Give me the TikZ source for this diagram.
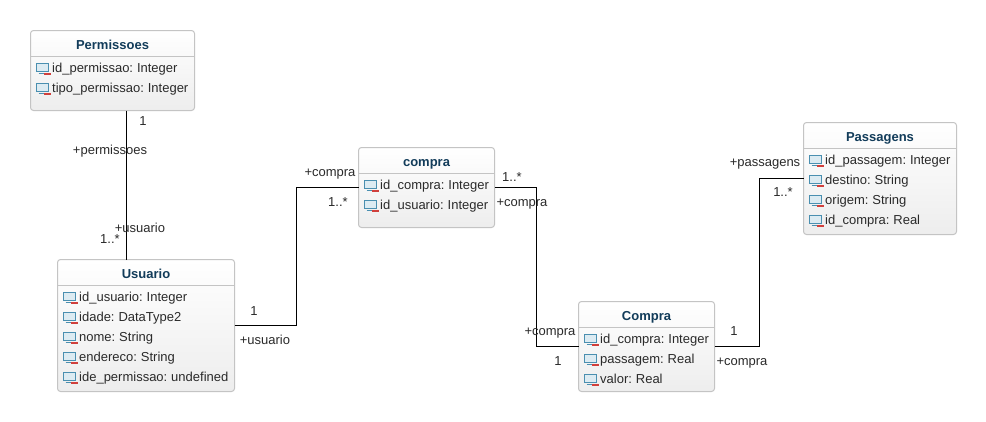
\documentclass[tikz,border=0pt]{standalone}
\usepackage{fontspec}
\setmainfont[WordSpace=0.75]{Liberation Sans}
\usetikzlibrary{calc}
\definecolor{titlec}{HTML}{123C5A}
\definecolor{edgec}{HTML}{C4C4C4}
\definecolor{txtc}{HTML}{2A2A2A}
\definecolor{iconb}{HTML}{4A8FB0}
\definecolor{iconf}{HTML}{DCEBF2}
\definecolor{iconr}{HTML}{D0403C}
\tikzset{
  x=1pt,y=-1pt,
  classbox/.style={draw=edgec,line width=1pt,rounded corners=3pt,top color=white,bottom color=black!7,inner sep=0pt,outer sep=0pt},
  divider/.style={draw=edgec,line width=1pt},
  classtitle/.style={font=\fontsize{13}{15}\selectfont\bfseries,text=titlec,inner sep=0pt,text height=9.5pt,text depth=2.5pt,yshift=-2pt},
  attr/.style={font=\fontsize{13}{15}\selectfont,text=txtc,anchor=west,inner sep=0pt,text height=9.5pt,text depth=2.5pt,yshift=-1pt},
  rolelabel/.style={font=\fontsize{13}{15}\selectfont,text=txtc,inner sep=0pt,text height=9.5pt,text depth=2.5pt,yshift=-1pt},
  assoc/.style={draw=black,line width=1pt},
  attricon/.pic={
    \draw[iconb,line width=1pt,fill=iconf] (0,-4) rectangle (12,4);
    \draw[iconb,line width=1pt] (2,5.5) -- (10,5.5);
    \fill[iconr] (7,5) rectangle (14,7);
  }
}
\newcommand{\umlclass}[7]{% name, left, top, right, bottom, divider y, title
  \node[classbox,minimum width=#4pt-#2pt,minimum height=#5pt-#3pt] (#1) at ({(#2+#4)/2},{(#3+#5)/2}) {};
  \draw[divider] (#2,#6) -- (#4,#6);
  \node[classtitle] (#1-title) at ({(#2+#4)/2},{(#3+#6)/2}) {#7};
}
\newcommand{\umlattr}[4]{% name, box left, row y, text
  \pic at ({#2+6},#3) {attricon};
  \node[attr] (#1) at ({#2+21.5},#3) {#4};
}
\begin{document}
\begin{tikzpicture}
\useasboundingbox[fill=white] (0,0) rectangle (986,421);

\umlclass{perm}{30.5}{30.5}{194.5}{110.5}{56.5}{Permissoes}
\umlattr{perma}{30.5}{67.5}{id\_permissao: Integer}
\umlattr{permb}{30.5}{87.5}{tipo\_permissao: Integer}

\umlclass{usuario}{57.5}{259.5}{234.5}{391.5}{285.5}{Usuario}
\umlattr{usa}{57.5}{296.5}{id\_usuario: Integer}
\umlattr{usb}{57.5}{316.5}{idade: DataType2}
\umlattr{usc}{57.5}{336.5}{nome: String}
\umlattr{usd}{57.5}{356.5}{endereco: String}
\umlattr{use}{57.5}{376.5}{ide\_permissao: undefined}

\umlclass{compraa}{358.5}{147.5}{494.5}{227.5}{173.5}{compra}
\umlattr{caa}{358.5}{184.5}{id\_compra: Integer}
\umlattr{cab}{358.5}{204.5}{id\_usuario: Integer}

\umlclass{comprab}{578.5}{301.5}{714.5}{391.5}{327.5}{Compra}
\umlattr{cba}{578.5}{338.5}{id\_compra: Integer}
\umlattr{cbb}{578.5}{358.5}{passagem: Real}
\umlattr{cbc}{578.5}{378.5}{valor: Real}

\umlclass{pass}{803.5}{122.5}{956.5}{234.5}{148.5}{Passagens}
\umlattr{paa}{803.5}{159.5}{id\_passagem: Integer}
\umlattr{pab}{803.5}{179.5}{destino: String}
\umlattr{pac}{803.5}{199.5}{origem: String}
\umlattr{pad}{803.5}{219.5}{id\_compra: Real}

\draw[assoc] ([xshift=96pt]perm.south west) -- ([xshift=69pt]usuario.north west);
\draw[assoc] (usuario.east) -| ($(usuario.east)!.5!(compraa.west)$) |- (compraa.west);
\draw[assoc] (compraa.east) -| ($(compraa.east)!.5!(comprab.west)$) |- (comprab.west);
\draw[assoc] (comprab.east) -| ($(comprab.east)!.5056!(pass.west)$) |- (pass.west);

\node[rolelabel] (l1) at (143,121) {1};
\node[rolelabel] (l2) at (110,150) {+permissoes};
\node[rolelabel] (l3) at (140,228) {+usuario};
\node[rolelabel] (l4) at (110,239) {1..*};
\node[rolelabel] (l5) at (254,311) {1};
\node[rolelabel] (l6) at (265,340) {+usuario};
\node[rolelabel] (l7) at (330,172) {+compra};
\node[rolelabel] (l8) at (338,202) {1..*};
\node[rolelabel] (l9) at (512,177) {1..*};
\node[rolelabel] (l10) at (522,202) {+compra};
\node[rolelabel] (l11) at (550,331) {+compra};
\node[rolelabel] (l12) at (558,361) {1};
\node[rolelabel] (l13) at (734,331) {1};
\node[rolelabel] (l14) at (742,361) {+compra};
\node[rolelabel] (l15) at (765,162) {+passagens};
\node[rolelabel] (l16) at (783,192) {1..*};
\end{tikzpicture}
\end{document}
